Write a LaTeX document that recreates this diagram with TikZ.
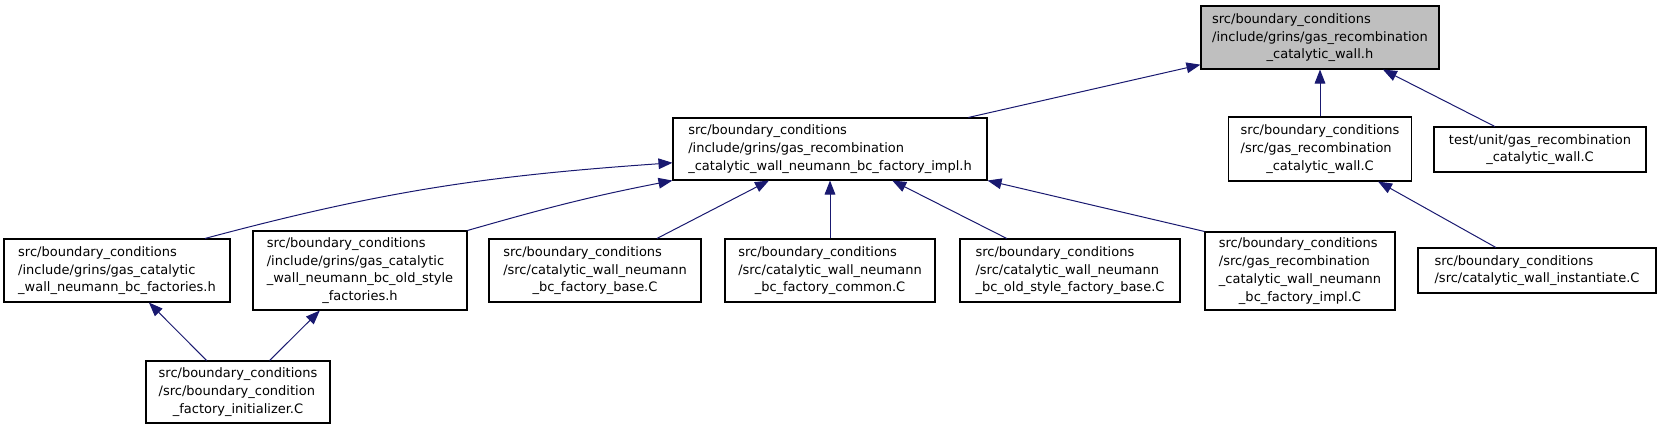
\documentclass[tikz,border=0pt]{standalone}
\usepackage{fontspec}
\setmainfont{DejaVu Sans}
\usetikzlibrary{arrows.meta}

\definecolor{edgeblue}{HTML}{191970}
\definecolor{rootgray}{HTML}{BFBFBF}

\newcommand\flbl[2]{\begin{tabular}{@{}l@{}}#1\\\multicolumn{1}{@{}c@{}}{#2}\end{tabular}}

\begin{document}
\begin{tikzpicture}[x=0.75pt,y=-0.75pt,
  file/.style={draw=black,line width=0.8pt,fill=white,inner sep=0pt,
    font=\fontsize{9.75}{13.3}\selectfont},
  dep/.style={draw=edgeblue,line width=0.75pt,
    -{Triangle[length=10.5pt,width=8pt]},edgeblue}]
\useasboundingbox (0,0) rectangle (1661,429);

\node[file,fill=rootgray,minimum width=178.5pt,minimum height=47.25pt] (root) at (1320,37.5)
  {\flbl{src/boundary\_conditions\\/include/grins/gas\_recombination}{\_catalytic\_wall.h}};

\node[file,minimum width=235.5pt,minimum height=46.5pt] (implH) at (830,149)
  {\flbl{src/boundary\_conditions\\/include/grins/gas\_recombination}{\_catalytic\_wall\_neumann\_bc\_factory\_impl.h}};
\node[file,minimum width=137.25pt,minimum height=48pt] (wallC) at (1320,149)
  {\flbl{src/boundary\_conditions\\/src/gas\_recombination}{\_catalytic\_wall.C}};
\node[file,minimum width=159pt,minimum height=33.75pt] (testC) at (1540,149.5)
  {\flbl{test/unit/gas\_recombination}{\_catalytic\_wall.C}};

\node[file,minimum width=169.5pt,minimum height=47.25pt] (factH) at (117,270.5)
  {\flbl{src/boundary\_conditions\\/include/grins/gas\_catalytic}{\_wall\_neumann\_bc\_factories.h}};
\node[file,minimum width=160.5pt,minimum height=59.25pt] (oldH) at (360,270.5)
  {\flbl{src/boundary\_conditions\\/include/grins/gas\_catalytic\\\_wall\_neumann\_bc\_old\_style}{\_factories.h}};
\node[file,minimum width=159pt,minimum height=47.25pt] (baseC) at (595,270.5)
  {\flbl{src/boundary\_conditions\\/src/catalytic\_wall\_neumann}{\_bc\_factory\_base.C}};
\node[file,minimum width=157.5pt,minimum height=47.25pt] (commonC) at (830,270.5)
  {\flbl{src/boundary\_conditions\\/src/catalytic\_wall\_neumann}{\_bc\_factory\_common.C}};
\node[file,minimum width=165pt,minimum height=47.25pt] (oldbaseC) at (1070,270.5)
  {\flbl{src/boundary\_conditions\\/src/catalytic\_wall\_neumann}{\_bc\_old\_style\_factory\_base.C}};
\node[file,minimum width=142.5pt,minimum height=58.5pt] (implC) at (1300,271)
  {\flbl{src/boundary\_conditions\\/src/gas\_recombination\\\_catalytic\_wall\_neumann}{\_bc\_factory\_impl.C}};
\node[file,minimum width=178.5pt,minimum height=33.75pt] (instC) at (1537,270.5)
  {\flbl{src/boundary\_conditions}{/src/catalytic\_wall\_instantiate.C}};

\node[file,minimum width=138pt,minimum height=46.5pt] (initC) at (238,392)
  {\flbl{src/boundary\_conditions\\/src/boundary\_condition}{\_factory\_initializer.C}};

\draw[dep] (implH) -- (root);
\draw[dep] (wallC) -- (root);
\draw[dep] (testC) -- (root);

\draw[dep] (factH.20) to[out=15,in=184] (implH.185);
\draw[dep] (oldH.north east) to[out=16,in=191] (implH.south west);
\draw[dep] (baseC) -- (implH);
\draw[dep] (commonC) -- (implH);
\draw[dep] (oldbaseC) -- (implH);
\draw[dep] (implC.north west) -- (implH.south east);

\draw[dep] (instC) -- (wallC);

\draw[dep] (initC) -- (factH);
\draw[dep] (initC) -- (oldH);

\end{tikzpicture}
\end{document}
